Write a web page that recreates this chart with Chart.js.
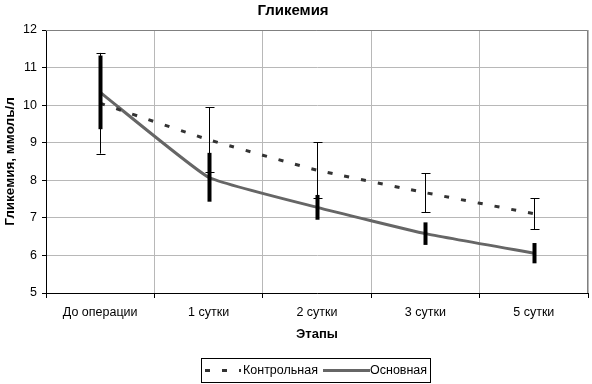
<!DOCTYPE html>
<html>
<head>
<meta charset="utf-8">
<script src="https://cdn.jsdelivr.net/npm/chart.js@4/dist/chart.umd.min.js"></script>
<style>
  html, body { margin: 0; padding: 0; background: #fff; }
  #wrap { width: 592px; height: 384px; }
</style>
</head>
<body>
<div id="wrap"><canvas id="c" width="592" height="384"></canvas></div>
<script>
// ---- data ----
const categories = ['До операции', '1 сутки', '2 сутки', '3 сутки', '5 сутки'];
const controlLabel = 'Контрольная';
const controlValues = [10.05, 9.08, 8.27, 7.67, 7.11];
const controlErrors = [1.34, 0.86, 0.74, 0.52, 0.41];
const mainLabel = 'Основная';
const mainValues = [10.34, 8.08, 7.28, 6.58, 6.06];
const mainErrors = [0.98, 0.65, 0.33, 0.30, 0.27];
const yTicks = [5, 6, 7, 8, 9, 10, 11, 12];
const chartTitle = 'Гликемия';
const xTitle = 'Этапы';
const yTitle = 'Гликемия, ммоль/л';

const FONT = '"Liberation Sans", Arial, sans-serif';
const errorSets = [controlErrors, mainErrors];

const decorPlugin = {
  id: 'decor',
  beforeDraw(chart) {
    const ctx = chart.ctx;
    ctx.save();
    ctx.fillStyle = '#fff';
    ctx.fillRect(0, 0, chart.width, chart.height);
    ctx.restore();
  },
  beforeDatasetsDraw(chart) {
    const {ctx, chartArea: a} = chart;
    ctx.save();
    ctx.strokeStyle = '#808080';
    ctx.lineWidth = 1;
    ctx.beginPath();
    ctx.moveTo(a.left, a.top + 0.5);
    ctx.lineTo(a.right - 0.5, a.top + 0.5);
    ctx.lineTo(a.right - 0.5, a.bottom);
    ctx.stroke();
    ctx.restore();
  },
  afterDatasetsDraw(chart) {
    const ctx = chart.ctx;
    const xs = chart.scales.x, ys = chart.scales.y;
    ctx.save();
    ctx.strokeStyle = '#000';
    chart.data.datasets.forEach((ds, di) => {
      const errs = errorSets[di];
      ds.data.forEach((v, i) => {
        const x = Math.round(xs.getPixelForValue(i)) + 0.5;
        const yTop = ys.getPixelForValue(v + errs[i]);
        const yBot = ys.getPixelForValue(v - errs[i]);
        ctx.beginPath();
        if (di === 0) {
          ctx.lineWidth = 1;
          ctx.moveTo(x, yTop); ctx.lineTo(x, yBot);
          ctx.moveTo(x - 4, Math.round(yTop) + 0.5); ctx.lineTo(x + 5, Math.round(yTop) + 0.5);
          ctx.moveTo(x - 4, Math.round(yBot) + 0.5); ctx.lineTo(x + 5, Math.round(yBot) + 0.5);
        } else {
          ctx.lineWidth = 4;
          ctx.moveTo(x, yTop); ctx.lineTo(x, yBot);
        }
        ctx.stroke();
      });
    });
    ctx.restore();
  },
  afterDraw(chart) {
    const {ctx, chartArea: a} = chart;
    ctx.save();
    ctx.fillStyle = '#000';
    // chart title
    ctx.font = 'bold 15px ' + FONT;
    ctx.textAlign = 'center';
    ctx.textBaseline = 'middle';
    ctx.fillText(chartTitle, 293, 11);
    // x title
    ctx.font = 'bold 13px ' + FONT;
    ctx.fillText(xTitle, (a.left + a.right) / 2, 334);
    // y title
    ctx.save();
    ctx.font = 'bold 13.5px ' + FONT;
    ctx.translate(10, (a.top + a.bottom) / 2);
    ctx.rotate(-Math.PI / 2);
    ctx.fillText(yTitle, 0, 0);
    ctx.restore();
    // legend
    const lx = 201, ly = 358, lw = 229, lh = 24;
    ctx.strokeStyle = '#000';
    ctx.lineWidth = 1;
    ctx.strokeRect(lx + 0.5, ly + 0.5, lw, lh);
    const cy = ly + lh / 2 + 0.5;
    const ds0 = chart.data.datasets[0], ds1 = chart.data.datasets[1];
    ctx.lineWidth = 3;
    ctx.strokeStyle = ds0.borderColor;
    ctx.setLineDash(ds0.borderDash);
    ctx.beginPath(); ctx.moveTo(205, cy); ctx.lineTo(241, cy); ctx.stroke();
    ctx.setLineDash([]);
    ctx.strokeStyle = ds1.borderColor;
    ctx.beginPath(); ctx.moveTo(323, cy); ctx.lineTo(370, cy); ctx.stroke();
    ctx.font = '12.5px ' + FONT;
    ctx.textAlign = 'left';
    ctx.fillStyle = '#000';
    ctx.fillText(ds0.label, 243, cy);
    ctx.fillText(ds1.label, 370, cy);
    ctx.restore();
  }
};

new Chart(document.getElementById('c'), {
  type: 'line',
  data: {
    labels: categories,
    datasets: [
      {
        label: controlLabel,
        data: controlValues,
        borderColor: '#333333',
        borderWidth: 3,
        borderDash: [5, 12],
        pointRadius: 0,
        tension: 0.12,
        fill: false
      },
      {
        label: mainLabel,
        data: mainValues,
        borderColor: '#666666',
        borderWidth: 3,
        pointRadius: 0,
        tension: 0.12,
        fill: false
      }
    ]
  },
  options: {
    responsive: false,
    animation: false,
    devicePixelRatio: 1,
    layout: { padding: { top: 30, left: 0, right: 4, bottom: 0 } },
    plugins: {
      legend: { display: false },
      title: { display: false },
      tooltip: { enabled: false }
    },
    scales: {
      x: {
        type: 'category',
        offset: true,
        afterFit(scale) { scale.height = 91; },
        grid: {
          offset: true,
          color: '#b8b8b8',
          borderDash: [4, 3],
          tickLength: 5,
          tickColor: '#000',
          tickBorderDash: []
        },
        border: { color: '#000', width: 1 },
        ticks: {
          color: '#000',
          font: { family: FONT, size: 12.5 },
          padding: 7,
          maxRotation: 0,
          autoSkip: false
        }
      },
      y: {
        min: 5,
        max: 12,
        afterFit(scale) { scale.width = 46; },
        afterBuildTicks(scale) { scale.ticks = yTicks.map(v => ({ value: v })); },
        grid: {
          color: '#b8b8b8',
          borderDash: [4, 3],
          tickLength: 4,
          tickColor: '#000',
          tickBorderDash: []
        },
        border: { color: '#000', width: 1 },
        ticks: {
          color: '#000',
          font: { family: FONT, size: 12.5 },
          padding: 5
        }
      }
    }
  },
  plugins: [decorPlugin]
});
</script>
</body>
</html>
